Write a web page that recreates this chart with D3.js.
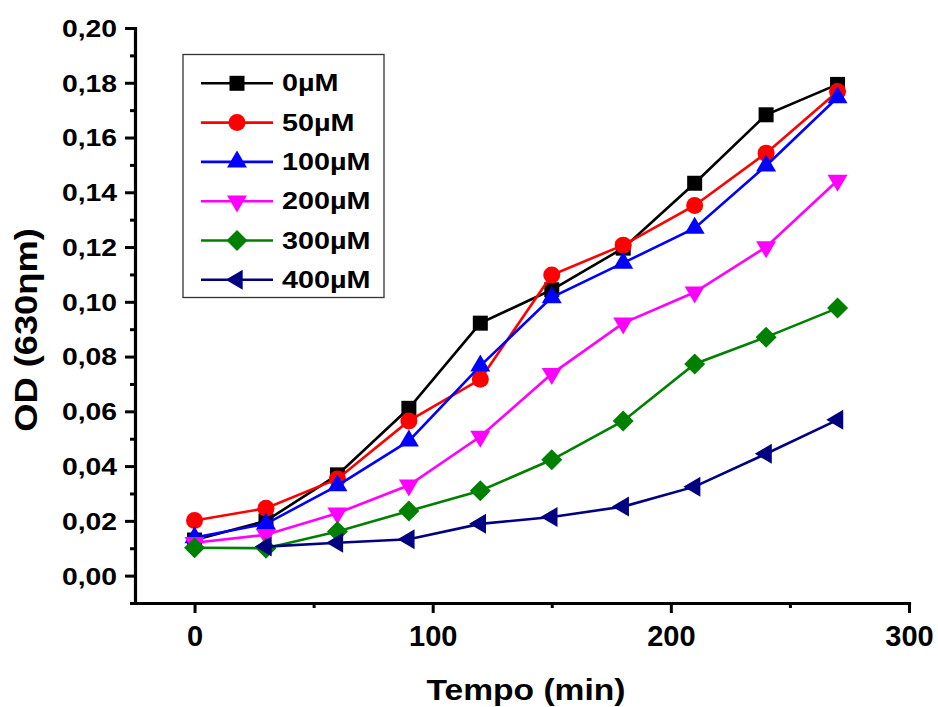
<!DOCTYPE html>
<html><head><meta charset="utf-8">
<script src="https://cdn.jsdelivr.net/npm/d3@7"></script>
<style>body{margin:0;background:#fff} svg{display:block}</style>
</head><body>
<svg id="c" width="938" height="707"></svg>
<script>
// ---- data ----
const times = [0, 30, 60, 90, 120, 150, 180, 210, 240, 270];
const seriesNames = ["0µM", "50µM", "100µM", "200µM", "300µM", "400µM"];
const s0   = [0.0130, 0.0200, 0.0368, 0.0611, 0.0922, 0.1044, 0.1196, 0.1433, 0.1683, 0.1794];
const s50  = [0.0201, 0.0246, 0.0353, 0.0565, 0.0717, 0.1098, 0.1207, 0.1352, 0.1543, 0.1768];
const s100 = [0.0139, 0.0189, 0.0329, 0.0492, 0.0766, 0.1016, 0.1142, 0.1269, 0.1497, 0.1746];
const s200 = [0.0120, 0.0149, 0.0228, 0.0330, 0.0508, 0.0737, 0.0922, 0.1035, 0.1200, 0.1443];
const s300 = [0.0102, 0.0100, 0.0161, 0.0236, 0.0310, 0.0423, 0.0565, 0.0773, 0.0871, 0.0977];
const s400 = [null,   0.0106, 0.0120, 0.0133, 0.0189, 0.0214, 0.0252, 0.0325, 0.0445, 0.0569];
const yTicks = [0, 0.02, 0.04, 0.06, 0.08, 0.10, 0.12, 0.14, 0.16, 0.18, 0.20];
const yMinor = [-0.01, 0.01, 0.03, 0.05, 0.07, 0.09, 0.11, 0.13, 0.15, 0.17, 0.19];
const xTicks = [0, 100, 200, 300];
const xMinor = [50, 150, 250];

const allSeries = [s0, s50, s100, s200, s300, s400];
const colors = ["#000000", "#ff0000", "#0000ff", "#ff00ff", "#008000", "#000080"];
const shapes = ["square", "circle", "up", "down", "diamond", "left"];

// ---- setup ----
const FONT = "'Liberation Sans', Arial, Helvetica, sans-serif";
const svg = d3.select("#c");
const x = d3.scaleLinear().domain([-25, 300]).range([135, 909]);
const y = d3.scaleLinear().domain([-0.01, 0.20]).range([603, 28]);

function shapePath(t) {
  switch (t) {
    case "square": return "M-7.5,-7.5H7.5V7.5H-7.5Z";
    case "circle": return "M8.5,0A8.5,8.5 0 1,1 -8.5,0A8.5,8.5 0 1,1 8.5,0Z";
    case "up": return "M0,-11.3L10,5.7L-10,5.7Z";
    case "down": return "M0,11.3L10,-5.7L-10,-5.7Z";
    case "diamond": return "M0,-10.5L10.5,0L0,10.5L-10.5,0Z";
    case "left": return "M-11.3,0L5.7,-10L5.7,10Z";
  }
}

// ---- axes ----
const fmt = d => d3.format(".2f")(d).replace(".", ",");
const gy = svg.append("g").attr("transform", "translate(135,0)")
  .call(d3.axisLeft(y).tickValues(yTicks).tickSize(10).tickSizeOuter(0).tickFormat(fmt));
svg.append("g").attr("transform", "translate(135,0)")
  .call(d3.axisLeft(y).tickValues(yMinor).tickSize(5).tickSizeOuter(0).tickFormat(""))
  .call(g => g.select(".domain").remove());
const gx = svg.append("g").attr("transform", "translate(0,603)")
  .call(d3.axisBottom(x).tickValues(xTicks).tickSize(10).tickSizeOuter(0).tickPadding(12));
svg.append("g").attr("transform", "translate(0,603)")
  .call(d3.axisBottom(x).tickValues(xMinor).tickSize(5).tickSizeOuter(0).tickFormat(""))
  .call(g => g.select(".domain").remove());

svg.selectAll(".domain").attr("stroke", "#000").attr("stroke-width", 3.2).attr("stroke-linecap", "square");
svg.selectAll(".tick line").attr("stroke", "#000").attr("stroke-width", 3);

gy.selectAll(".tick text")
  .attr("x", 0).attr("dy", "0.35em")
  .attr("transform", "translate(-18,0) scale(1.18,1)")
  .style("font-family", FONT).style("font-weight", "bold").style("font-size", "24px").attr("fill", "#000");
gx.selectAll(".tick text")
  .style("font-family", FONT).style("font-weight", "bold").style("font-size", "29px").attr("fill", "#000");

// axis titles
svg.append("text")
  .attr("transform", "translate(526,700) scale(1.12,1)")
  .attr("text-anchor", "middle")
  .style("font-family", FONT).style("font-weight", "bold").style("font-size", "30px")
  .text("Tempo (min)");
svg.append("text")
  .attr("transform", "translate(37,330) rotate(-90) scale(1.17,1)")
  .attr("text-anchor", "middle")
  .style("font-family", FONT).style("font-weight", "bold").style("font-size", "31px")
  .text("OD (630ηm)");

// ---- series ----
const line = d3.line().defined(d => d.v != null).x(d => x(d.t)).y(d => y(d.v));
allSeries.forEach((vals, i) => {
  const pts = times.map((t, k) => ({ t: t, v: vals[k] }));
  const g = svg.append("g");
  g.append("path").datum(pts).attr("d", line)
    .attr("fill", "none").attr("stroke", colors[i]).attr("stroke-width", 2.6);
  g.selectAll("path.m").data(pts.filter(d => d.v != null)).join("path")
    .attr("class", "m")
    .attr("transform", d => `translate(${x(d.t)},${y(d.v)})`)
    .attr("d", shapePath(shapes[i]))
    .attr("fill", colors[i]);
});

// ---- legend ----
const leg = svg.append("g");
leg.append("rect").attr("x", 183).attr("y", 54.5).attr("width", 201).attr("height", 243)
  .attr("fill", "#fff").attr("stroke", "#333").attr("stroke-width", 1.3);
seriesNames.forEach((name, i) => {
  const cy = 83.3 + i * 39.3;
  leg.append("line").attr("x1", 201).attr("x2", 273).attr("y1", cy).attr("y2", cy)
    .attr("stroke", colors[i]).attr("stroke-width", 2.6);
  leg.append("path").attr("transform", `translate(237,${cy})`).attr("d", shapePath(shapes[i]))
    .attr("fill", colors[i]);
  leg.append("text")
    .attr("transform", `translate(282,${cy}) scale(1.25,1)`)
    .attr("dy", "0.35em")
    .style("font-family", FONT).style("font-weight", "bold").style("font-size", "23px")
    .text(name);
});
</script>
</body></html>
